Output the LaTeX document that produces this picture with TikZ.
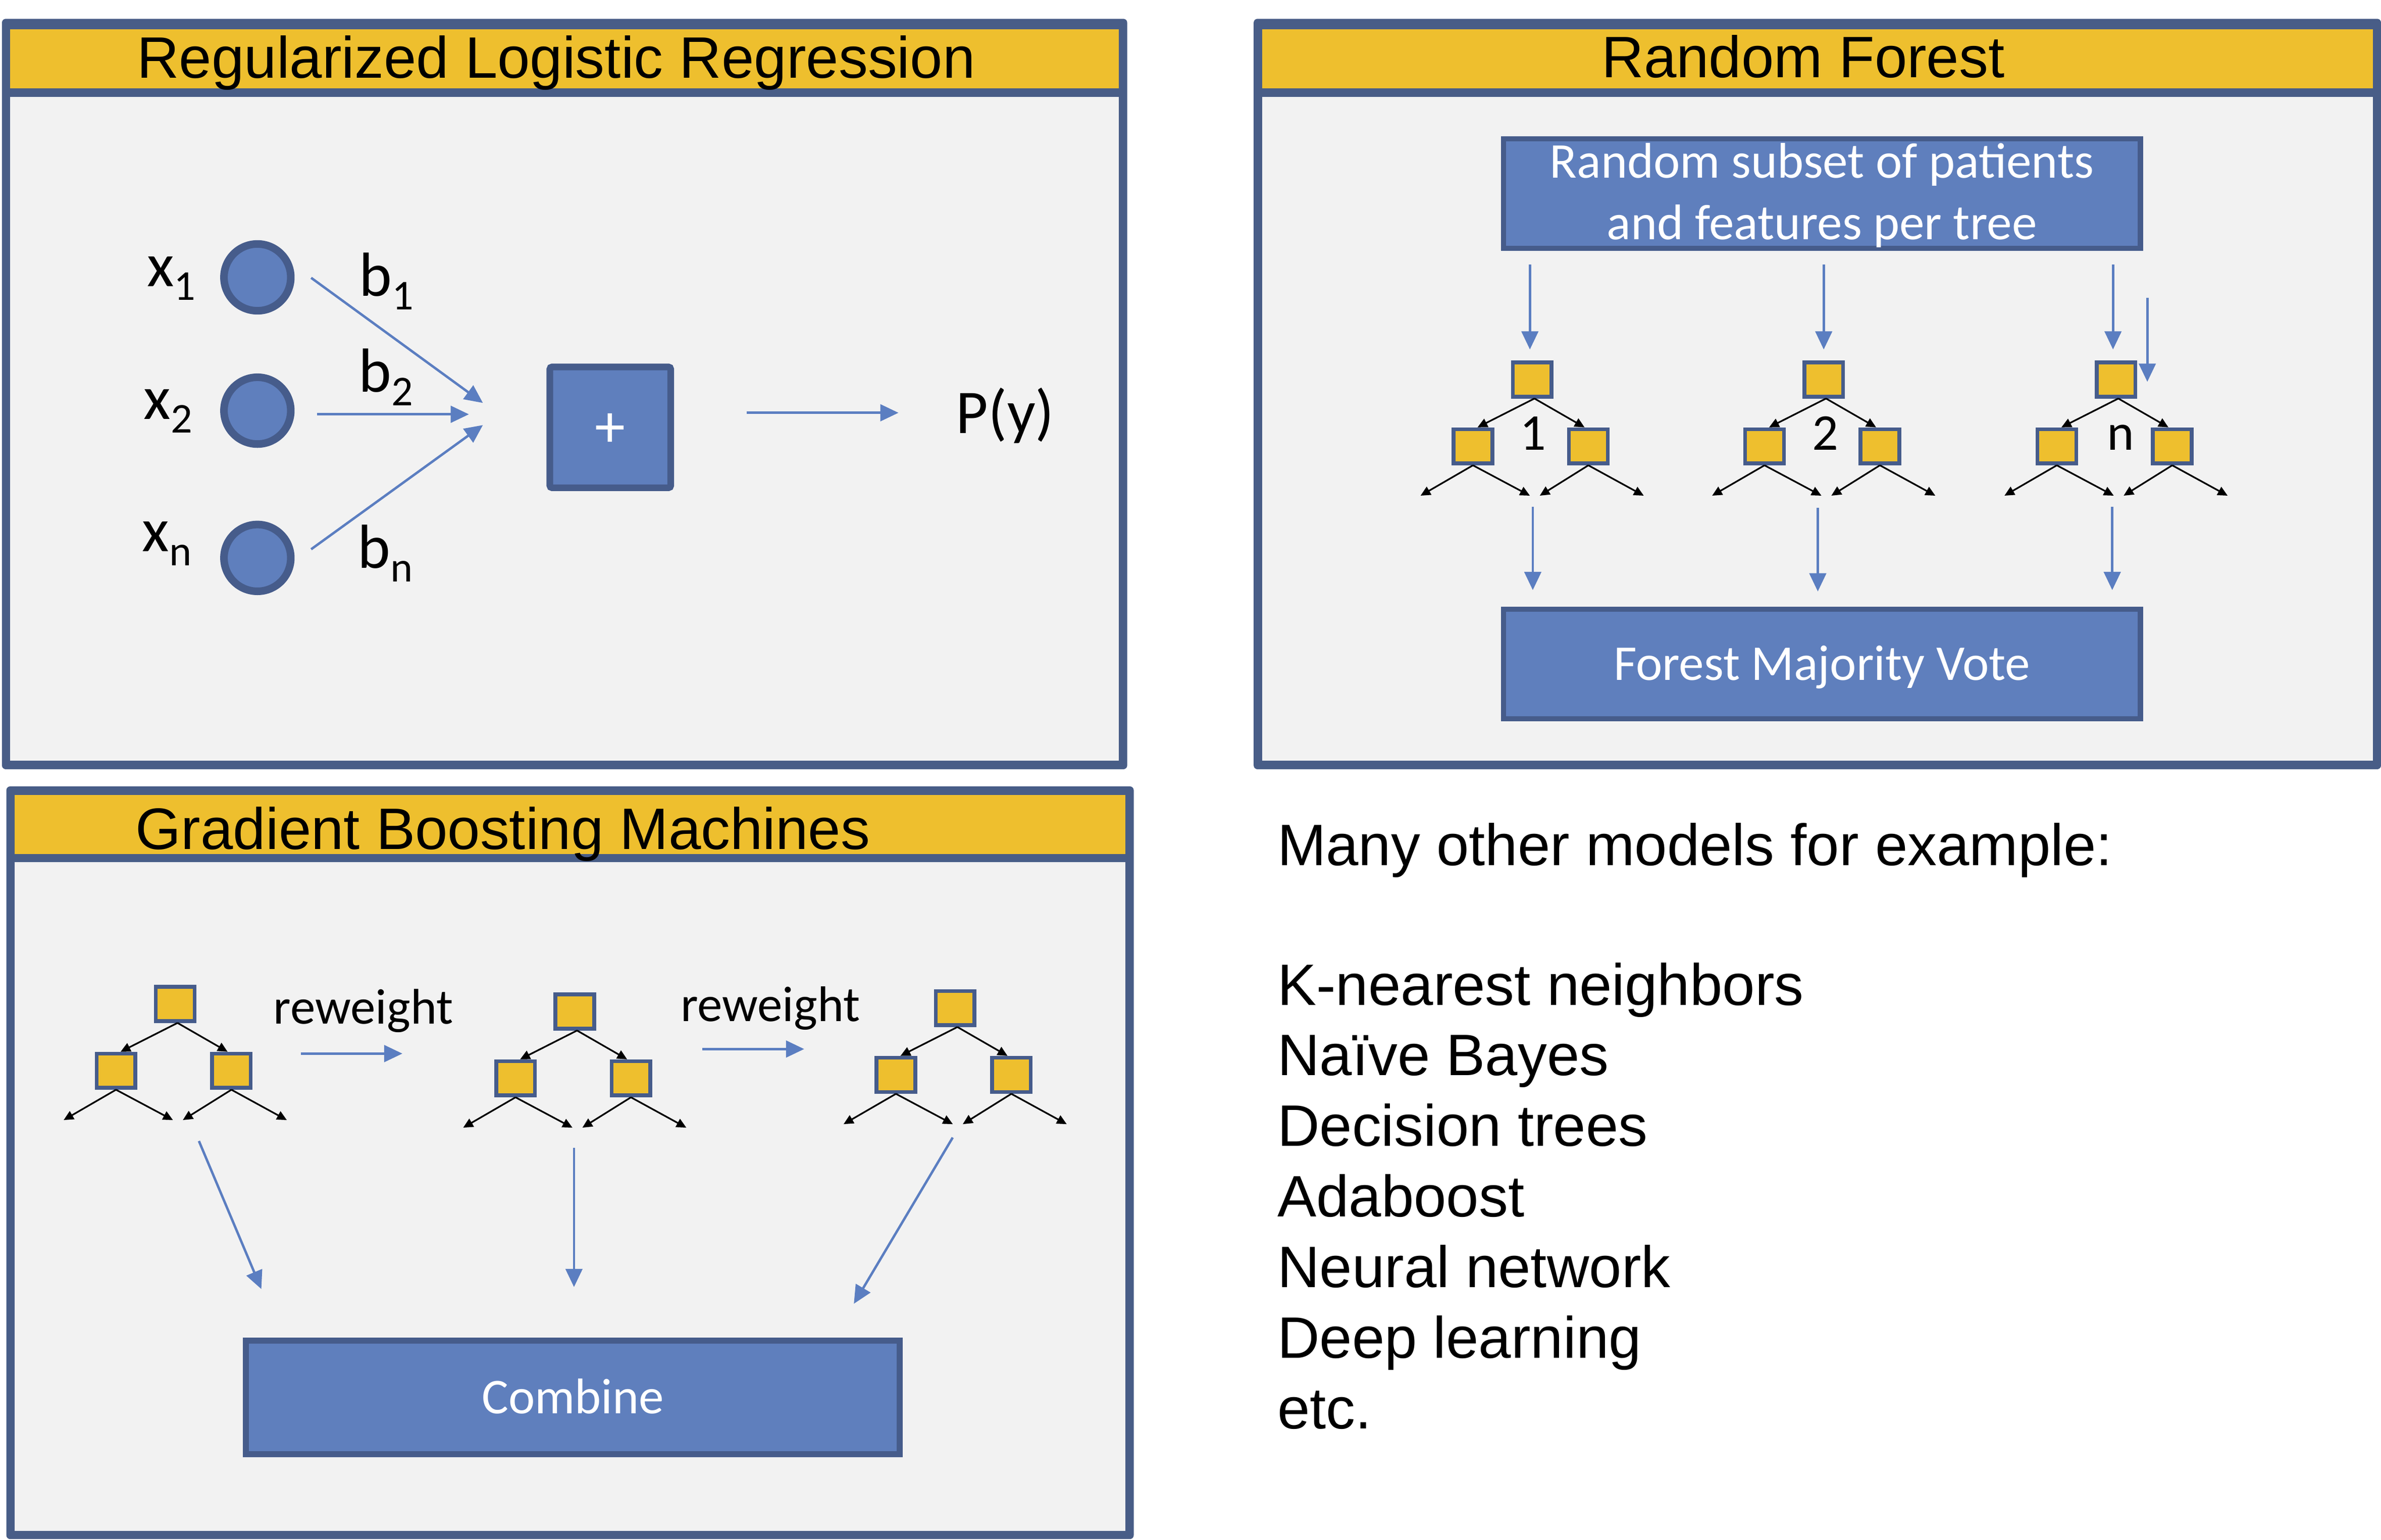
\documentclass[tikz,border=0pt]{standalone}
\usepackage{fontspec}
\setmainfont{Liberation Sans}
\newfontfamily\calib{Carlito}
\usetikzlibrary{arrows.meta}
\definecolor{frame}{HTML}{485D87}
\definecolor{hdr}{HTML}{EEBF2E}
\definecolor{panel}{HTML}{F2F2F2}
\definecolor{boxfill}{HTML}{5F7FBD}
\definecolor{boxline}{HTML}{465C8B}
\definecolor{arrowblue}{HTML}{5B7EC1}
\newcommand\sbs[1]{\raisebox{-9pt}{\fontsize{28pt}{28pt}\selectfont #1}}
\tikzset{
  bluearrow/.style={draw=arrowblue,line width=1.6pt,-{Triangle[length=12pt,width=11pt]}},
  blackarrow/.style={draw=black,line width=1.1pt,-{Triangle[length=6.5pt,width=6pt]}},
  tbox/.style={draw=boxline,fill=hdr,line width=2.5pt,minimum width=25.5pt,minimum height=22.5pt,inner sep=0pt},
  bluebox/.style={draw=boxline,fill=boxfill,inner sep=0pt,text=white,font=\calib\fontsize{33pt}{40.5pt}\selectfont},
  feat/.style={circle,draw=boxline,fill=boxfill,line width=5pt,minimum size=44pt,inner sep=0pt},
  hdrtext/.style={inner sep=0pt,font=\fontsize{38.5pt}{46.5pt}\selectfont},
  bodytext/.style={inner sep=0pt,anchor=base west,font=\fontsize{38.5pt}{46.5pt}\selectfont},
  lbl/.style={inner sep=0pt,anchor=base west,font=\calib\fontsize{41pt}{41pt}\selectfont},
  small/.style={inner sep=0pt,font=\calib\fontsize{33pt}{33pt}\selectfont},
  pics/dtree/.style={code={
    \node[tbox] (-r) at (0,0) {};
    \node[tbox] (-a) at (-39,44) {};
    \node[tbox] (-b) at (37,44) {};
    \coordinate (-l1) at (-73.5,76.5);
    \coordinate (-l2) at (-1.5,76.5);
    \coordinate (-l3) at (5,76.5);
    \coordinate (-l4) at (73.5,76.5);
    \draw[blackarrow] ([xshift=1.5pt]-r.south) -- ([xshift=3pt]-a.north);
    \draw[blackarrow] ([xshift=1.5pt]-r.south) -- ([xshift=-2.5pt]-b.north);
    \draw[blackarrow] (-a.south) -- (-l1);
    \draw[blackarrow] (-a.south) -- (-l2);
    \draw[blackarrow] (-b.south) -- (-l3);
    \draw[blackarrow] (-b.south) -- (-l4);
  }}
}
\begin{document}
\begin{tikzpicture}[x=1pt,y=-1pt]
\useasboundingbox (0,0) rectangle (1568,1014.08);
\fill[white] (0,0) rectangle (1568,1014.08);

% ---------- panels ----------
\fill[frame,rounded corners=2.5pt] (1.3,12.4) rectangle (742.3,506.7);
\fill[hdr] (6.8,19.4) rectangle (736.8,58.2);
\fill[panel] (6.8,63.7) rectangle (736.8,501.2);

\fill[frame,rounded corners=2.5pt] (825.6,12.4) rectangle (1568,506.7);
\fill[hdr] (831.1,19.4) rectangle (1562.5,58.2);
\fill[panel] (831.1,63.7) rectangle (1562.5,501.2);

\fill[frame,rounded corners=2.5pt] (4.2,518) rectangle (746.6,1013.8);
\fill[hdr] (9.6,523.6) rectangle (741.1,562.4);
\fill[panel] (9.6,567.9) rectangle (741.1,1008.4);

\node[hdrtext,anchor=base west] (h1) at (90,51.5) {Regularized Logistic Regression};
\node[hdrtext,anchor=base] (h2) at (1187.5,51) {Random Forest};
\node[hdrtext,anchor=base west] (h3) at (89.2,559.5) {Gradient Boosting Machines};

% ---------- Regularized Logistic Regression ----------
\node[feat] (c1) at (169.5,182.7) {};
\node[feat] (c2) at (169.5,270.5) {};
\node[feat] (cn) at (169.5,367.5) {};
\node[lbl] (x1) at (96.6,188.6) {x\sbs{1}};
\node[lbl] (x2) at (94.5,276) {x\sbs{2}};
\node[lbl] (xn) at (93.5,363.4) {x\sbs{n}};
\node[lbl] (b1) at (236.5,195) {b\sbs{1}};
\node[lbl] (b2) at (236,258.2) {b\sbs{2}};
\node[lbl] (bn) at (235.5,374.2) {b\sbs{n}};
\node[bluebox,minimum width=79.6pt,minimum height=79.6pt,line width=4.4pt,rounded corners=1.5pt,font=\calib\fontsize{40pt}{40pt}\selectfont,text height=26pt,text depth=0pt] (sum) at (401.9,281.5) {+};
\node[lbl,font=\calib\fontsize{41pt}{41pt}\selectfont] (py) at (629.5,285.5) {P(y)};
\coordinate (a1s) at (204.9,183);   \coordinate (a1e) at (318,265.4);
\coordinate (a2s) at (208.8,272.9); \coordinate (a2e) at (308.8,272.9);
\coordinate (a3s) at (204.9,361.8); \coordinate (a3e) at (318,280);
\coordinate (aos) at (491.7,271.9); \coordinate (aoe) at (591.7,271.9);
\draw[bluearrow] (a1s) -- (a1e);
\draw[bluearrow] (a2s) -- (a2e);
\draw[bluearrow] (a3s) -- (a3e);
\draw[bluearrow] (aos) -- (aoe);

% ---------- Random Forest ----------
\node[bluebox,minimum width=419.5pt,minimum height=72.2pt,line width=3.5pt,align=center,text depth=3pt] (subset) at (1199.8,127.55) {Random subset of patients\\and features per tree};
\node[bluebox,minimum width=419.5pt,minimum height=72.2pt,line width=3.5pt,text height=21.3pt,text depth=0pt] (vote) at (1199.8,437.4) {Forest Majority Vote};
\pic (rf1) at (1009,250) {dtree};
\pic (rf2) at (1201,250) {dtree};
\pic (rf3) at (1393.5,250) {dtree};
\node[small,anchor=base,font=\calib\fontsize{34pt}{34pt}\selectfont] (lab1) at (1009.5,296.4) {1};
\node[small,anchor=base,font=\calib\fontsize{34pt}{34pt}\selectfont] (lab2) at (1202,296.4) {2};
\node[small,anchor=base,font=\calib\fontsize{34pt}{34pt}\selectfont] (lab3) at (1396.5,296.4) {n};
\coordinate (d1s) at (1007.5,174.2); \coordinate (d1e) at (1007.5,230.2);
\coordinate (d2s) at (1201,174.2);   \coordinate (d2e) at (1201,230.2);
\coordinate (d3s) at (1391.5,174.2); \coordinate (d3e) at (1391.5,230.2);
\coordinate (d4s) at (1414.1,196.3); \coordinate (d4e) at (1414.1,251.5);
\coordinate (u1s) at (1009.4,333.8); \coordinate (u1e) at (1009.4,388.7);
\coordinate (u2s) at (1197.1,334.4); \coordinate (u2e) at (1197.1,389.6);
\coordinate (u3s) at (1391,333.8);   \coordinate (u3e) at (1391,388.7);
\foreach \p in {d1,d2,d3,d4,u1,u2,u3}{\draw[bluearrow] (\p s) -- (\p e);}

% ---------- Gradient Boosting Machines ----------
\pic (gb1) at (115.4,661.3) {dtree};
\pic (gb2) at (378.5,666.3) {dtree};
\pic (gb3) at (629,664) {dtree};
\node[small,anchor=base west] (rw1) at (180,674.4) {reweight};
\node[small,anchor=base west] (rw2) at (448,672.8) {reweight};
\coordinate (r1s) at (198,694);   \coordinate (r1e) at (265,694);
\coordinate (r2s) at (462.6,691); \coordinate (r2e) at (529.6,691);
\draw[bluearrow] (r1s) -- (r1e);
\draw[bluearrow] (r2s) -- (r2e);
\node[bluebox,minimum width=430.5pt,minimum height=75pt,line width=4pt,text height=21.3pt,text depth=0pt] (combine) at (377.25,920.5) {Combine};
\coordinate (gAs) at (131,751.6);   \coordinate (gAe) at (172.1,849.1);
\coordinate (gBs) at (378,756);     \coordinate (gBe) at (378,847.8);
\coordinate (gCs) at (627.4,749.3); \coordinate (gCe) at (562.3,858.8);
\draw[bluearrow] (gAs) -- (gAe);
\draw[bluearrow] (gBs) -- (gBe);
\draw[bluearrow] (gCs) -- (gCe);

% ---------- other models ----------
\node[bodytext] (m0) at (841,570) {Many other models for example:};
\node[bodytext] (m1) at (841,662) {K-nearest neighbors};
\node[bodytext] (m2) at (841,708.5) {Naïve Bayes};
\node[bodytext] (m3) at (841,755) {Decision trees};
\node[bodytext] (m4) at (841,801.5) {Adaboost};
\node[bodytext] (m5) at (841,848) {Neural network};
\node[bodytext] (m6) at (841,894.5) {Deep learning};
\node[bodytext] (m7) at (841,941) {etc.};
\end{tikzpicture}
\end{document}
